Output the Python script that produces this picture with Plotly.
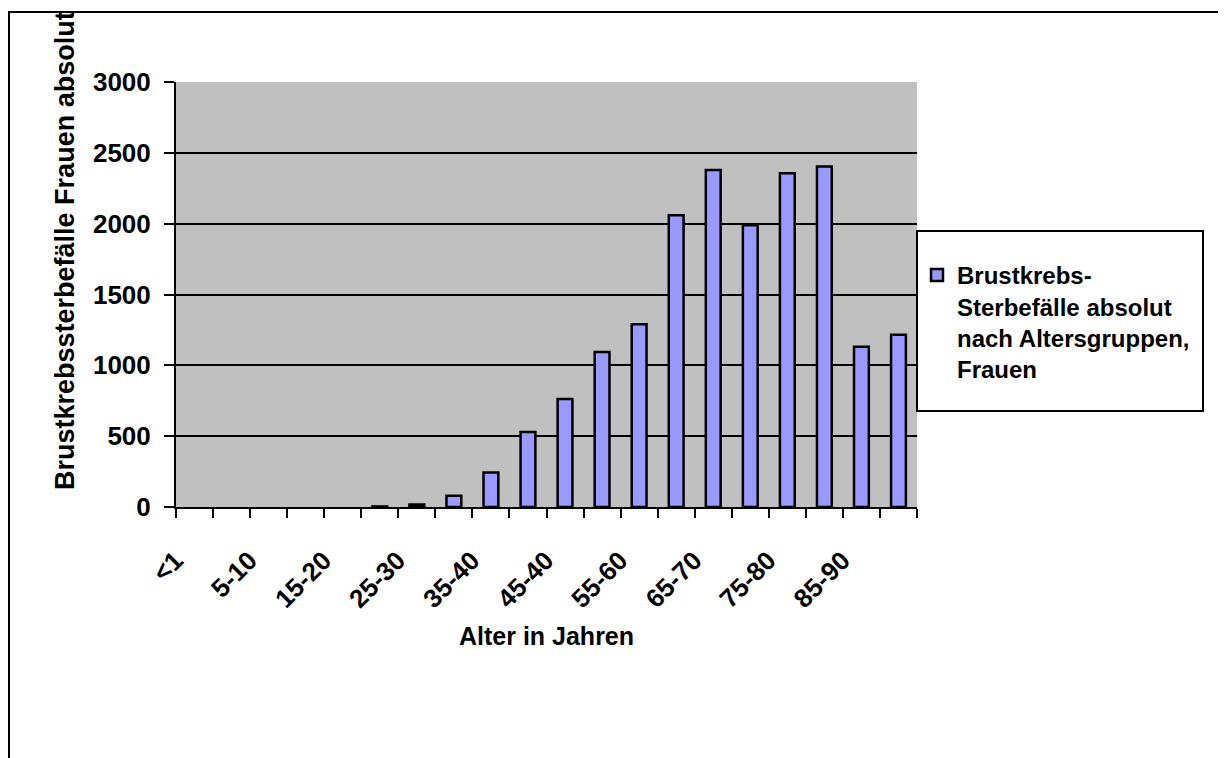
import plotly.graph_objects as go

# ---- data ----
categories = ["<1", "1-5", "5-10", "10-15", "15-20", "20-25", "25-30", "30-35", "35-40", "40-45",
              "45-40", "50-55", "55-60", "60-65", "65-70", "70-75", "75-80", "80-85", "85-90", "90+"]
tick_labels = ["<1", "", "5-10", "", "15-20", "", "25-30", "", "35-40", "",
               "45-40", "", "55-60", "", "65-70", "", "75-80", "", "85-90", ""]
deaths = [0, 0, 0, 0, 0, 4, 18, 80, 244, 530, 763, 1095, 1290, 2060, 2379, 1988, 2356, 2403, 1132, 1216]
series_name = "Brustkrebs-<br>Sterbefälle absolut<br>nach Altersgruppen,<br>Frauen"
y_title = "Brustkrebssterbefälle Frauen absolut"
x_title = "Alter in Jahren"

OFF = 8  # default page body margin
W, H = 1226 - OFF, 758 - OFF
# plot area in screen pixels
L, R, T, B = 176, 917, 82, 507
FONT = "Liberation Sans, Arial, sans-serif"


def px(x):
    return (x - L) / (R - L)


def py(y):
    return (B - y) / (B - T)


# zero counts draw no visible bar (as in the original chart)
bar_heights = [v if v > 0 else None for v in deaths]

fig = go.Figure()
fig.add_trace(go.Bar(
    x=categories, y=bar_heights, name=series_name,
    marker=dict(color="#9999FF", line=dict(color="black", width=2.5)),
    showlegend=True,
))

fig.update_layout(
    width=W, height=H,
    margin=dict(l=L - OFF, r=W - (R - OFF), t=T - OFF, b=H - (B - OFF), pad=0),
    paper_bgcolor="white", plot_bgcolor="#C0C0C0",
    bargap=0.6,
    font=dict(family=FONT, color="black", size=24),
    showlegend=True,
    legend=dict(x=px(917), xanchor="left", y=py(253), yanchor="top",
                bgcolor="rgba(0,0,0,0)", borderwidth=0, valign="top",
                font=dict(family=FONT, size=24, color="black", weight="bold"),
                tracegroupgap=0),
    xaxis=dict(
        type="category", tickmode="array", tickvals=categories, ticktext=tick_labels,
        tickson="boundaries", ticks="outside", ticklen=9, tickwidth=2, tickcolor="black",
        tickangle=-45, showline=True, linecolor="black", linewidth=2,
        showgrid=False, zeroline=False,
        ticklabelstandoff=26, ticklabelshift=-19,
        tickfont=dict(family=FONT, size=26, color="black", weight="bold"),
    ),
    yaxis=dict(
        range=[0, 3000], tickmode="linear", tick0=0, dtick=500,
        ticks="outside", ticklen=10, tickwidth=2, tickcolor="black",
        showline=True, linecolor="black", linewidth=2,
        showgrid=True, gridcolor="black", gridwidth=2, zeroline=False,
        ticklabelstandoff=8,
        tickfont=dict(family=FONT, size=26, color="black", weight="bold"),
    ),
)

# outer chart border
fig.add_shape(type="rect", xref="paper", yref="paper",
              x0=px(9), x1=px(1220), y0=py(775), y1=py(12),
              line=dict(color="black", width=2), fillcolor="rgba(0,0,0,0)", layer="below")
# legend box
fig.add_shape(type="rect", xref="paper", yref="paper",
              x0=px(917), x1=px(1203), y0=py(411), y1=py(231),
              line=dict(color="black", width=2), fillcolor="white", layer="above")

fig.add_annotation(text="<b>" + y_title + "</b>", textangle=-90, xref="paper", yref="paper",
                   x=px(65), y=py(251), xanchor="center", yanchor="middle", showarrow=False,
                   font=dict(family=FONT, size=27, color="black"))
fig.add_annotation(text="<b>" + x_title + "</b>", xref="paper", yref="paper",
                   x=px(546), y=py(636), xanchor="center", yanchor="middle", showarrow=False,
                   font=dict(family=FONT, size=25, color="black"))

fig.write_html("out.html")
